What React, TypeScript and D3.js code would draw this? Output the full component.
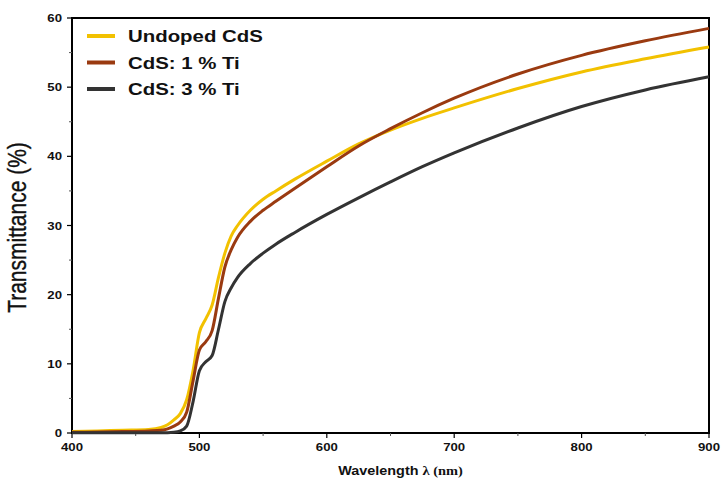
import React from "react";
import * as d3 from "d3";

const wavelengths = [400, 420, 440, 460, 470, 475, 480, 485, 490, 495, 500, 505, 510, 515, 520, 525, 530, 540, 550, 560, 575, 600, 625, 650, 675, 700, 750, 800, 850, 900];
const undoped = [0.2, 0.3, 0.4, 0.5, 0.8, 1.2, 1.9, 2.8, 4.8, 9.0, 14.5, 16.5, 18.5, 22.5, 26.0, 28.5, 30.0, 32.2, 33.8, 35.0, 36.7, 39.3, 41.8, 43.8, 45.5, 47.0, 49.8, 52.2, 54.1, 55.8];
const ti1 = [0.1, 0.15, 0.2, 0.3, 0.4, 0.6, 1.0, 1.6, 3.0, 7.5, 12.0, 13.2, 14.8, 19.5, 24.0, 26.5, 28.3, 30.6, 32.2, 33.5, 35.4, 38.5, 41.5, 44.0, 46.3, 48.4, 51.9, 54.6, 56.7, 58.5];
const ti3 = [0.05, 0.05, 0.05, 0.05, 0.05, 0.05, 0.1, 0.3, 1.0, 4.5, 9.0, 10.3, 11.2, 15.0, 19.0, 21.0, 22.5, 24.5, 26.0, 27.3, 29.0, 31.6, 34.0, 36.3, 38.5, 40.5, 44.1, 47.2, 49.6, 51.5];

const seriesNames = ["Undoped CdS", "CdS: 1 % Ti", "CdS: 3 % Ti"];
const seriesValues = [undoped, ti1, ti3];
const seriesColors = ["#F2C100", "#9A3A10", "#333333"];

const xTicks = [400, 500, 600, 700, 800, 900];
const xMinor = [450, 550, 650, 750, 850];
const yTicks = [0, 10, 20, 30, 40, 50, 60];
const yMinor = [5, 15, 25, 35, 45, 55];

const W = 722, H = 481;
const L = 72, R = 709, T = 18, B = 433;
const SX = 1.2;

export default function App() {
  const x = d3.scaleLinear().domain([400, 900]).range([L, R]);
  const y = d3.scaleLinear().domain([0, 60]).range([B, T]);
  const line = d3
    .line<number>()
    .x((_, i) => x(wavelengths[i]))
    .y((d) => y(d))
    .curve(d3.curveMonotoneX);
  const font = "Arial, 'Liberation Sans', sans-serif";

  return (
    <svg width={W} height={H} style={{ position: "absolute", left: 0, top: 0, background: "#fff" }}>
      <rect x={0} y={0} width={W} height={H} fill="#fff" />
      <rect x={L} y={T} width={R - L} height={B - T} fill="none" stroke="#000" strokeWidth={2} />
      {yTicks.map((t) => (
        <g key={"y" + t}>
          <line x1={L - 5} x2={L} y1={y(t)} y2={y(t)} stroke="#000" strokeWidth={1.2} />
          <text
            transform={`translate(${L - 10},${y(t) + 4}) scale(${SX},1)`}
            textAnchor="end"
            fontFamily={font}
            fontWeight="bold"
            fontSize={11}
            fill="#111"
          >
            {t}
          </text>
        </g>
      ))}
      {yMinor.map((t) => (
        <line key={"ym" + t} x1={L - 3} x2={L} y1={y(t)} y2={y(t)} stroke="#555" strokeWidth={1} />
      ))}
      {xTicks.map((t) => (
        <g key={"x" + t}>
          <line x1={x(t)} x2={x(t)} y1={B} y2={B + 5} stroke="#000" strokeWidth={1.2} />
          <text
            transform={`translate(${x(t)},${B + 18}) scale(${SX},1)`}
            textAnchor="middle"
            fontFamily={font}
            fontWeight="bold"
            fontSize={11}
            fill="#111"
          >
            {t}
          </text>
        </g>
      ))}
      {xMinor.map((t) => (
        <line key={"xm" + t} x1={x(t)} x2={x(t)} y1={B} y2={B + 3} stroke="#555" strokeWidth={1} />
      ))}
      <text
        transform={`translate(${(L + R) / 2 + 10},${H - 6}) scale(${SX},1)`}
        textAnchor="middle"
        fontFamily={font}
        fontWeight="bold"
        fontSize={12}
        fill="#111"
      >
        Wavelength{" "}
        <tspan fontFamily="'Liberation Serif', 'DejaVu Serif', serif" fontSize={12}>
          λ (nm)
        </tspan>
      </text>
      <text
        transform={`translate(26,${(T + B) / 2 + 2}) rotate(-90) scale(1,${SX})`}
        textAnchor="middle"
        fontFamily={font}
        fontSize={21}
        fontWeight={500}
        stroke="#111"
        strokeWidth={0.3}
        fill="#111"
      >
        Transmittance (%)
      </text>
      {seriesValues.map((vals, i) => (
        <path key={"s" + i} d={line(vals) || ""} fill="none" stroke={seriesColors[i]} strokeWidth={3} strokeLinejoin="round" />
      ))}
      {seriesNames.map((n, i) => {
        const ly = 36 + i * 26.5;
        return (
          <g key={"lg" + i}>
            <line x1={87} x2={115} y1={ly} y2={ly} stroke={seriesColors[i]} strokeWidth={4} />
            <text
              transform={`translate(128,${ly + 6}) scale(${SX},1)`}
              fontFamily={font}
              fontWeight="bold"
              fontSize={17}
              fill="#111"
            >
              {n}
            </text>
          </g>
        );
      })}
    </svg>
  );
}
